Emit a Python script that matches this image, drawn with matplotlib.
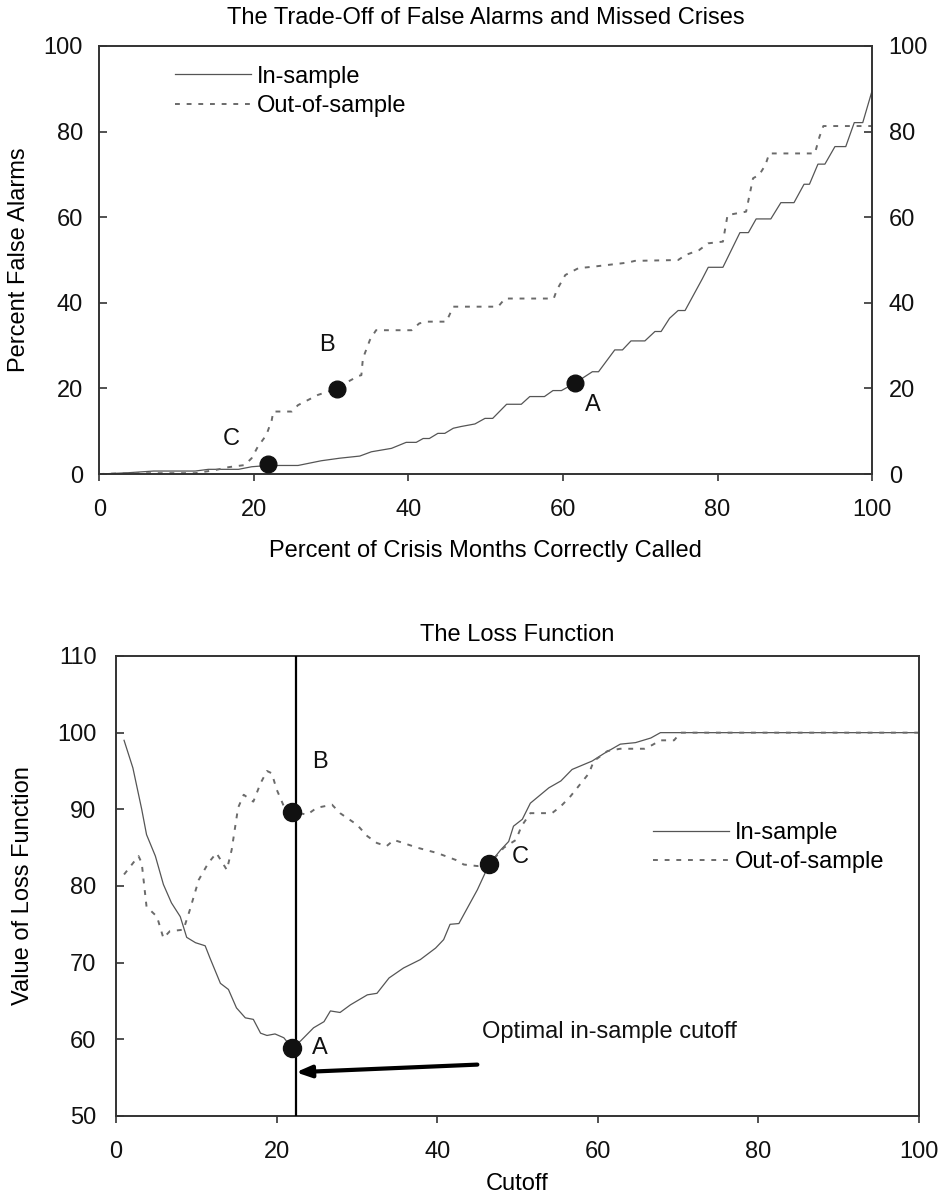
import matplotlib
matplotlib.use("Agg")
import matplotlib.pyplot as plt

plt.rcParams['font.family'] = ['Liberation Sans', 'DejaVu Sans']

# --- верхний график: компромисс ложных тревог и пропущенных кризисов ---
top_in_x = [0, 3.7, 7.0, 12.4, 14.1, 18.0, 19.7, 21.8, 25.7, 28.7, 31.1, 33.7, 35.2, 37.8,
            39.7, 41.0, 41.9, 42.7, 43.8, 44.7, 45.8, 46.8, 48.6, 49.9, 50.9, 52.7, 54.6,
            55.7, 57.6, 58.7, 59.8, 61.5, 63.8, 64.6, 66.7, 67.7, 68.8, 70.6, 71.9, 72.7,
            73.8, 74.9, 75.8, 78.0, 78.8, 80.7, 82.9, 84.0, 85.0, 86.9, 88.2, 89.9, 91.2,
            91.9, 93.0, 93.9, 95.2, 96.6, 97.7, 98.8, 100]
top_in_y = [0, 0.3, 0.7, 0.7, 1.1, 1.1, 1.7, 2.0, 2.0, 3.1, 3.7, 4.2, 5.2, 6.0,
            7.4, 7.4, 8.3, 8.3, 9.5, 9.5, 10.7, 11.1, 11.7, 13.0, 13.0, 16.3, 16.3,
            18.1, 18.1, 19.5, 19.5, 21.2, 23.9, 23.9, 29.0, 29.0, 31.1, 31.1, 33.3, 33.3,
            36.4, 38.2, 38.2, 45.5, 48.3, 48.3, 56.4, 56.4, 59.6, 59.6, 63.4, 63.4, 67.7,
            67.7, 72.4, 72.4, 76.5, 76.5, 82.1, 82.1, 89.5]

top_out_x = [0, 3.7, 12.4, 14.9, 16.7, 18.8, 19.7, 20.5, 21.6, 22.3, 22.5, 24.9, 25.7, 27.0,
             28.3, 30.7, 32.2, 33.5, 33.9, 34.1, 35.0, 35.8, 40.4, 41.4, 42.5, 44.9, 45.8,
             51.6, 52.5, 58.8, 59.2, 60.3, 62.0, 63.7, 68.4, 69.3, 74.9, 75.9, 77.6, 78.8,
             80.7, 81.3, 83.7, 84.1, 84.6, 85.4, 86.2, 86.7, 92.6, 93.2, 93.7, 100]
top_out_y = [0, 0.2, 0.2, 0.9, 1.6, 2.1, 3.7, 6.4, 9.1, 12.6, 14.6, 14.6, 16.1, 17.3,
             18.5, 19.9, 21.6, 22.9, 23.1, 27.0, 31.3, 33.6, 33.6, 35.2, 35.6, 35.6, 39.1,
             39.1, 41.0, 41.0, 43.0, 46.5, 48.1, 48.4, 49.4, 49.8, 50.0, 51.2, 52.3, 53.9,
             54.3, 60.5, 61.3, 64.8, 69.1, 69.9, 72.2, 74.9, 74.9, 78.8, 81.3, 81.3]

top_pts_x = [61.5, 30.7, 21.8]
top_pts_y = [21.2, 19.9, 2.3]
top_pts_lab = ['A', 'B', 'C']
top_lab_x = [63.9, 29.4, 17.1]
top_lab_y = [16.1, 30.1, 8.3]

# --- нижний график: функция потерь ---
bot_in_x = [1, 2.1, 3.2, 3.8, 4.9, 5.9, 6.9, 8.0, 8.8, 9.9, 11.1, 11.7, 13.0, 14.0, 15.0,
            16.1, 17.1, 18.0, 18.8, 19.8, 20.9, 21.9, 23.0, 24.6, 25.9, 26.7, 27.9, 29.2,
            31.3, 32.5, 34.0, 35.8, 37.9, 39.8, 40.8, 41.6, 42.7, 43.9, 45.0, 46.5, 47.9,
            48.9, 49.5, 50.6, 51.6, 53.9, 55.4, 56.8, 59.3, 60.8, 62.8, 64.7, 66.6, 67.8, 100]
bot_in_y = [99.0, 95.4, 90.0, 86.7, 83.9, 80.2, 77.8, 76.0, 73.3, 72.6, 72.2, 70.6, 67.3,
            66.5, 64.1, 62.8, 62.6, 60.8, 60.5, 60.7, 60.2, 58.9, 59.8, 61.5, 62.3, 63.7,
            63.5, 64.5, 65.8, 66.0, 68.0, 69.3, 70.4, 71.9, 73.0, 75.0, 75.1, 77.4, 79.5,
            82.9, 84.7, 85.8, 87.8, 88.7, 90.8, 92.8, 93.7, 95.2, 96.3, 97.3, 98.5, 98.7,
            99.3, 100, 100]

bot_out_x = [1, 2.8, 3.2, 3.8, 5.1, 5.9, 6.7, 8.4, 9.2, 10.3, 11.5, 12.5, 13.8, 14.4, 15.2,
             15.9, 17.1, 18.0, 18.8, 19.4, 20.0, 20.9, 21.9, 23.8, 25.0, 26.9, 27.9, 30.0,
             31.3, 32.5, 33.7, 34.6, 35.8, 37.5, 40.0, 42.3, 43.3, 45.0, 46.5, 48.3, 49.8,
             50.5, 51.6, 54.3, 55.4, 56.6, 57.9, 58.9, 59.5, 61.2, 62.8, 65.8, 66.8, 67.8,
             69.5, 70.3, 100]
bot_out_y = [81.5, 83.9, 83.0, 77.3, 76.0, 73.2, 74.1, 74.3, 76.9, 80.8, 83.0, 84.3, 82.1,
             84.7, 90.2, 91.9, 91.0, 93.4, 95.0, 94.7, 92.6, 90.4, 89.7, 89.3, 90.2, 90.6,
             89.5, 88.0, 86.5, 85.6, 85.2, 86.0, 85.6, 85.0, 84.3, 83.4, 82.8, 82.6, 82.9,
             85.0, 86.0, 87.8, 89.5, 89.5, 90.4, 91.7, 93.4, 94.7, 96.3, 97.6, 97.9, 97.9,
             98.4, 99.0, 99.0, 100, 100]

bot_pts_x = [21.9, 21.9, 46.5]
bot_pts_y = [58.9, 89.7, 82.9]
bot_pts_lab = ['A', 'B', 'C']
bot_lab_x = [25.4, 25.4, 50.4]
bot_lab_y = [58.9, 96.2, 83.8]

opt_cutoff = 22.4
arrow_tail = (45.0, 56.7)
arrow_tip = (22.4, 55.7)

FS = 17
LINE_C = '#555555'
DASH_C = '#6a6a6a'
SPINE_C = '#333333'

fig = plt.figure(figsize=(9.41, 12.01), dpi=100)
ax1 = fig.add_axes([0.1057, 0.6053, 0.8210, 0.3564])
ax2 = fig.add_axes([0.1233, 0.0708, 0.8533, 0.3830])


def style_axes(ax):
    for s in ax.spines.values():
        s.set_color(SPINE_C)
        s.set_linewidth(1.4)
    ax.tick_params(axis='y', direction='in', length=6, width=1.2, colors=SPINE_C,
                   labelcolor='#111111', labelsize=FS, pad=12)
    ax.tick_params(axis='x', direction='out', length=5, width=1.2, colors=SPINE_C,
                   labelcolor='#111111', labelsize=FS, pad=13)


# верхний
ax1.plot(top_in_x, top_in_y, color=LINE_C, lw=0.9, label='In-sample')
ax1.plot(top_out_x, top_out_y, color=DASH_C, lw=1.4, dashes=(2.5, 3.5), label='Out-of-sample')
ax1.plot(top_pts_x, top_pts_y, 'o', color='#111111', ms=12, zorder=5)
for lx, ly, t in zip(top_lab_x, top_lab_y, top_pts_lab):
    ax1.text(lx, ly, t, fontsize=FS, ha='center', va='center', color='#111111')
ax1.set_xlim(0, 100)
ax1.set_ylim(0, 100)
ax1.set_xticks(range(0, 101, 20))
ax1.set_yticks(range(0, 101, 20))
style_axes(ax1)
ax1.tick_params(axis='y', right=True, labelright=True)
ax1.set_title('The Trade-Off of False Alarms and Missed Crises', fontsize=FS, pad=16)
ax1.set_xlabel('Percent of Crisis Months Correctly Called', fontsize=FS, labelpad=14)
ax1.set_ylabel('Percent False Alarms', fontsize=FS)
ax1.yaxis.set_label_coords(-0.09, 0.5)
ax1.legend(loc='upper left', bbox_to_anchor=(0.098, 0.954), frameon=False, fontsize=FS,
           handlelength=3.2, handletextpad=0.25, labelspacing=0.3, borderpad=0,
           borderaxespad=0)

# нижний
ax2.plot(bot_in_x, bot_in_y, color=LINE_C, lw=0.9, label='In-sample')
ax2.plot(bot_out_x, bot_out_y, color=DASH_C, lw=1.4, dashes=(2.5, 3.5), label='Out-of-sample')
ax2.axvline(opt_cutoff, color='black', lw=1.6, zorder=4)
ax2.plot(bot_pts_x, bot_pts_y, 'o', color='#111111', ms=13, zorder=5)
for lx, ly, t in zip(bot_lab_x, bot_lab_y, bot_pts_lab):
    ax2.text(lx, ly, t, fontsize=FS, ha='center', va='center', color='#111111')
ax2.annotate('', xy=arrow_tip, xytext=arrow_tail,
             arrowprops=dict(arrowstyle='-|>,head_length=0.9,head_width=0.35', lw=3,
                             color='black', shrinkA=0, shrinkB=0))
ax2.text(45.6, 60.9, 'Optimal in-sample cutoff', fontsize=FS, ha='left', va='center',
         color='#111111')
ax2.set_xlim(0, 100)
ax2.set_ylim(50, 110)
ax2.set_xticks(range(0, 101, 20))
ax2.set_yticks(range(50, 111, 10))
style_axes(ax2)
ax2.tick_params(axis='y', pad=14)
ax2.set_title('The Loss Function', fontsize=FS, pad=11)
ax2.set_xlabel('Cutoff', fontsize=FS, labelpad=7)
ax2.set_ylabel('Value of Loss Function', fontsize=FS)
ax2.yaxis.set_label_coords(-0.102, 0.5)
ax2.legend(loc='upper left', bbox_to_anchor=(0.669, 0.639), frameon=False, fontsize=FS,
           handlelength=3.2, handletextpad=0.25, labelspacing=0.3, borderpad=0,
           borderaxespad=0)

fig.savefig('out.png', dpi=100)
